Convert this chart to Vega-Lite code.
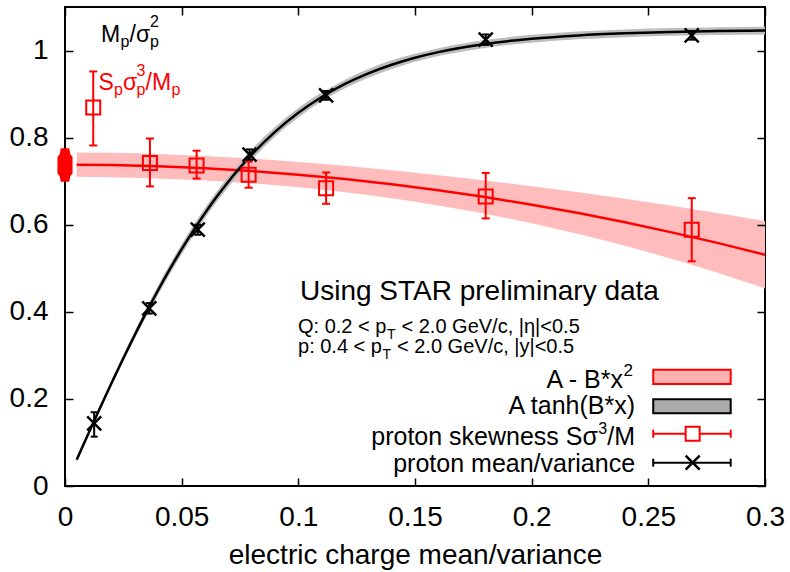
{
"$schema": "https://vega.github.io/schema/vega-lite/v6.json",
"width": 700, "height": 479,
"autosize": {"type": "none"},
"padding": {"left": 65, "top": 7, "right": 25, "bottom": 86},
"background": "white",
"config": {"font": "Liberation Sans", "view": {"stroke": "black", "strokeWidth": 2}, "axis": {"labelColor": "black", "titleColor": "black", "grid": false, "labelFont": "Liberation Sans", "titleFont": "Liberation Sans"}},
"resolve": {"axis": {"x": "independent", "y": "independent"}},
"datasets": {
"redfit": [
{"x":0.005,"y":0.7379,"lo":0.7099,"hi":0.7659},{"x":0.02,"y":0.7371,"lo":0.7091,"hi":0.7651},{"x":0.04,"y":0.7343,"lo":0.7063,"hi":0.7623},{"x":0.06,"y":0.7297,"lo":0.7016,"hi":0.7578},{"x":0.08,"y":0.7233,"lo":0.6948,"hi":0.7518},{"x":0.1,"y":0.715,"lo":0.6859,"hi":0.7441},{"x":0.12,"y":0.7049,"lo":0.6746,"hi":0.7352},{"x":0.14,"y":0.6929,"lo":0.6608,"hi":0.725},{"x":0.16,"y":0.6791,"lo":0.6444,"hi":0.7138},{"x":0.18,"y":0.6635,"lo":0.6253,"hi":0.7017},{"x":0.2,"y":0.646,"lo":0.6035,"hi":0.6885},{"x":0.22,"y":0.6267,"lo":0.5789,"hi":0.6745},{"x":0.24,"y":0.6055,"lo":0.5516,"hi":0.6594},{"x":0.26,"y":0.5825,"lo":0.5216,"hi":0.6434},{"x":0.28,"y":0.5577,"lo":0.489,"hi":0.6264},{"x":0.3,"y":0.531,"lo":0.4538,"hi":0.6083}],
"blackfit": [
{"x":0.005,"y":0.0602,"lo":0.0562,"hi":0.0642},{"x":0.01,"y":0.12,"lo":0.115,"hi":0.125},{"x":0.015,"y":0.179,"lo":0.173,"hi":0.185},{"x":0.02,"y":0.2369,"lo":0.2299,"hi":0.2439},{"x":0.025,"y":0.2933,"lo":0.2853,"hi":0.3013},{"x":0.03,"y":0.3479,"lo":0.3389,"hi":0.3569},{"x":0.035,"y":0.4004,"lo":0.3904,"hi":0.4104},{"x":0.04,"y":0.4507,"lo":0.4397,"hi":0.4617},{"x":0.045,"y":0.4986,"lo":0.4876,"hi":0.5096},{"x":0.05,"y":0.5439,"lo":0.5319,"hi":0.5559},{"x":0.055,"y":0.5866,"lo":0.5746,"hi":0.5986},{"x":0.06,"y":0.6267,"lo":0.6147,"hi":0.6387},{"x":0.065,"y":0.6641,"lo":0.6521,"hi":0.6761},{"x":0.07,"y":0.6988,"lo":0.6868,"hi":0.7108},{"x":0.075,"y":0.731,"lo":0.719,"hi":0.743},{"x":0.08,"y":0.7607,"lo":0.7487,"hi":0.7727},{"x":0.09,"y":0.8132,"lo":0.8022,"hi":0.8242},{"x":0.1,"y":0.857,"lo":0.846,"hi":0.868},{"x":0.11,"y":0.8934,"lo":0.8834,"hi":0.9034},{"x":0.12,"y":0.9232,"lo":0.9132,"hi":0.9332},{"x":0.13,"y":0.9476,"lo":0.9376,"hi":0.9576},{"x":0.14,"y":0.9675,"lo":0.9575,"hi":0.9775},{"x":0.15,"y":0.9835,"lo":0.9745,"hi":0.9925},{"x":0.16,"y":0.9964,"lo":0.9874,"hi":1.0054},{"x":0.18,"y":1.0151,"lo":1.0061,"hi":1.0241},{"x":0.2,"y":1.0271,"lo":1.0181,"hi":1.0361},{"x":0.22,"y":1.0348,"lo":1.0258,"hi":1.0438},{"x":0.24,"y":1.0396,"lo":1.0306,"hi":1.0486},{"x":0.26,"y":1.0427,"lo":1.0337,"hi":1.0517},{"x":0.28,"y":1.0447,"lo":1.0357,"hi":1.0537},{"x":0.3,"y":1.0459,"lo":1.0369,"hi":1.0549}],
"red": [
{"x":0.0121,"y":0.869,"lo":0.782,"hi":0.952},{"x":0.0364,"y":0.742,"lo":0.688,"hi":0.798},{"x":0.0564,"y":0.736,"lo":0.706,"hi":0.77},{"x":0.0787,"y":0.715,"lo":0.685,"hi":0.745},{"x":0.1119,"y":0.684,"lo":0.648,"hi":0.72},{"x":0.1803,"y":0.665,"lo":0.6145,"hi":0.719},{"x":0.2686,"y":0.5885,"lo":0.516,"hi":0.661}],
"black": [
{"x":0.0125,"y":0.144,"lo":0.1133,"hi":0.1694},{"x":0.0361,"y":0.408,"lo":0.396,"hi":0.42},{"x":0.0569,"y":0.5885,"lo":0.577,"hi":0.6},{"x":0.0791,"y":0.761,"lo":0.749,"hi":0.773},{"x":0.1119,"y":0.897,"lo":0.887,"hi":0.907},{"x":0.1803,"y":1.025,"lo":1.013,"hi":1.037},{"x":0.2686,"y":1.035,"lo":1.025,"hi":1.045}],
"redA": [{"x":0,"y":0.737}],
"legbox": [{"x1":0.2521,"x2":0.2853,"y1":0.2345,"y2":0.2667,"k":"pink"},{"x1":0.2521,"x2":0.2853,"y1":0.1671,"y2":0.1993,"k":"gray"}],
"legbar": [{"x1":0.2521,"x2":0.2853,"xm":0.269,"y":0.12,"k":"red"},{"x1":0.2521,"x2":0.2853,"xm":0.269,"y":0.0536,"k":"black"}],
"labels": [
{"t":"M","x":0.01543,"y":1.02,"g":"am"},{"t":"/σ","x":0.02764,"y":1.02,"g":"am"},
{"t":"p","x":0.02379,"y":1.0092,"g":"as"},{"t":"p","x":0.03643,"y":1.0092,"g":"as"},{"t":"2","x":0.03643,"y":1.0552,"g":"as"},
{"t":"S","x":0.01436,"y":0.9103,"g":"rm"},{"t":"σ","x":0.02486,"y":0.9103,"g":"rm"},{"t":"/M","x":0.0345,"y":0.9103,"g":"rm"},
{"t":"p","x":0.021,"y":0.8989,"g":"rs"},{"t":"p","x":0.03064,"y":0.8989,"g":"rs"},{"t":"3","x":0.03064,"y":0.9425,"g":"rs"},{"t":"p","x":0.04564,"y":0.8989,"g":"rs"},
{"t":"Using STAR preliminary data","x":0.1007,"y":0.4276,"g":"star"},
{"t":"Q: 0.2 < p","x":0.09986,"y":0.351,"g":"q"},{"t":"< 2.0 GeV/c, |η|<0.5","x":0.14421,"y":0.351,"g":"q"},
{"t":"p: 0.4 < p","x":0.09986,"y":0.3051,"g":"q"},{"t":"< 2.0 GeV/c, |y|<0.5","x":0.14229,"y":0.3051,"g":"q"},
{"t":"T","x":0.138,"y":0.3379,"g":"qs"},{"t":"T","x":0.13607,"y":0.292,"g":"qs"},
{"t":"A - B*x","x":0.2391,"y":0.2253,"g":"lr"},{"t":"A tanh(B*x)","x":0.2443,"y":0.1655,"g":"lr"},{"t":"/M","x":0.2443,"y":0.0943,"g":"lr"},{"t":"proton skewness Sσ","x":0.2284,"y":0.0943,"g":"lr"},{"t":"proton mean/variance","x":0.2443,"y":0.0315,"g":"lr"},
{"t":"2","x":0.2394,"y":0.2529,"g":"lsl"},{"t":"3","x":0.2323,"y":0.1195,"g":"lsr"}]
},
"layer": [
{"data":{"name":"redfit"},"mark":{"type":"area","color":"#ffbcbc","interpolate":"monotone"},
 "encoding":{"x":{"field":"x","type":"quantitative","scale":{"domain":[0,0.3],"nice":false},
   "axis":{"orient":"bottom","values":[0,0.05,0.1,0.15,0.2,0.25,0.3],"format":"~g","labelFontSize":28,"labelPadding":17,"labelFlush":false,"labelOverlap":false,"ticks":false,"domain":false,"title":"electric charge mean/variance","titleFontSize":28,"titleFontWeight":"normal","titleBaseline":"alphabetic","titleY":77}},
  "y":{"field":"lo","type":"quantitative","scale":{"domain":[0,1.1],"nice":false},
   "axis":{"orient":"left","values":[0,0.2,0.4,0.6,0.8,1],"format":"~g","labelFontSize":28,"labelPadding":17,"labelOverlap":false,"ticks":false,"domain":false,"title":null}},
  "y2":{"field":"hi"}}},
{"data":{"name":"blackfit"},"mark":{"type":"area","color":"#bdbdbd","interpolate":"monotone"},
 "encoding":{"x":{"field":"x","type":"quantitative","scale":{"domain":[0,0.3],"nice":false},
   "axis":{"orient":"bottom","offset":-8,"values":[0,0.05,0.1,0.15,0.2,0.25,0.3],"labels":false,"domain":false,"ticks":true,"tickSize":8,"tickWidth":1.5,"tickColor":"black","title":null,"zindex":1}},
  "y":{"field":"lo","type":"quantitative","scale":{"domain":[0,1.1],"nice":false},
   "axis":{"orient":"left","offset":-8,"values":[0,0.2,0.4,0.6,0.8,1],"labels":false,"domain":false,"ticks":true,"tickSize":8,"tickWidth":1.5,"tickColor":"black","title":null,"zindex":1}},
  "y2":{"field":"hi"}}},
{"data":{"name":"redfit"},"mark":{"type":"line","color":"#ff0000","strokeWidth":2.5,"interpolate":"monotone"},
 "encoding":{"x":{"field":"x","type":"quantitative","scale":{"domain":[0,0.3],"nice":false},
   "axis":{"orient":"top","offset":-8,"values":[0,0.05,0.1,0.15,0.2,0.25,0.3],"labels":false,"domain":false,"ticks":true,"tickSize":8,"tickWidth":1.5,"tickColor":"black","title":null,"zindex":1}},
  "y":{"field":"y","type":"quantitative","scale":{"domain":[0,1.1],"nice":false},
   "axis":{"orient":"right","offset":-8,"values":[0,0.2,0.4,0.6,0.8,1],"labels":false,"domain":false,"ticks":true,"tickSize":8,"tickWidth":1.5,"tickColor":"black","title":null,"zindex":1}}}},
{"data":{"name":"blackfit"},"mark":{"type":"line","color":"black","strokeWidth":2.5,"interpolate":"monotone"},
 "encoding":{"x":{"field":"x","type":"quantitative","scale":{"domain":[0,0.3],"nice":false},"axis":null},
  "y":{"field":"y","type":"quantitative","scale":{"domain":[0,1.1],"nice":false},"axis":null}}},
{"data":{"name":"redA"},"mark":{"type":"point","shape":"M -0.25 -1 L 0.25 -1 L 0.32 -0.65 L 0.45 -0.5 L 0.45 0.5 L 0.32 0.65 L 0.25 1 L -0.25 1 L -0.32 0.65 L -0.45 0.5 L -0.45 -0.5 L -0.32 -0.65 Z","size":1122,"filled":true,"fill":"#ff0000","strokeWidth":0,"opacity":1},
 "encoding":{"x":{"field":"x","type":"quantitative","scale":{"domain":[0,0.3],"nice":false},"axis":null},
  "y":{"field":"y","type":"quantitative","scale":{"domain":[0,1.1],"nice":false},"axis":null}}},
{"data":{"name":"red"},"mark":{"type":"rule","color":"#ff0000","strokeWidth":2},
 "encoding":{"x":{"field":"x","type":"quantitative","scale":{"domain":[0,0.3],"nice":false},"axis":null},
  "y":{"field":"lo","type":"quantitative","scale":{"domain":[0,1.1],"nice":false},"axis":null},"y2":{"field":"hi"}}},
{"data":{"name":"red"},"mark":{"type":"point","shape":"M -1 0 L 1 0","size":64,"filled":false,"stroke":"#ff0000","strokeWidth":2,"opacity":1},
 "encoding":{"x":{"field":"x","type":"quantitative","scale":{"domain":[0,0.3],"nice":false},"axis":null},
  "y":{"field":"lo","type":"quantitative","scale":{"domain":[0,1.1],"nice":false},"axis":null}}},
{"data":{"name":"red"},"mark":{"type":"point","shape":"M -1 0 L 1 0","size":64,"filled":false,"stroke":"#ff0000","strokeWidth":2,"opacity":1},
 "encoding":{"x":{"field":"x","type":"quantitative","scale":{"domain":[0,0.3],"nice":false},"axis":null},
  "y":{"field":"hi","type":"quantitative","scale":{"domain":[0,1.1],"nice":false},"axis":null}}},
{"data":{"name":"black"},"mark":{"type":"rule","color":"black","strokeWidth":2},
 "encoding":{"x":{"field":"x","type":"quantitative","scale":{"domain":[0,0.3],"nice":false},"axis":null},
  "y":{"field":"lo","type":"quantitative","scale":{"domain":[0,1.1],"nice":false},"axis":null},"y2":{"field":"hi"}}},
{"data":{"name":"black"},"mark":{"type":"point","shape":"M -1 0 L 1 0","size":49,"filled":false,"stroke":"black","strokeWidth":2,"opacity":1},
 "encoding":{"x":{"field":"x","type":"quantitative","scale":{"domain":[0,0.3],"nice":false},"axis":null},
  "y":{"field":"lo","type":"quantitative","scale":{"domain":[0,1.1],"nice":false},"axis":null}}},
{"data":{"name":"black"},"mark":{"type":"point","shape":"M -1 0 L 1 0","size":49,"filled":false,"stroke":"black","strokeWidth":2,"opacity":1},
 "encoding":{"x":{"field":"x","type":"quantitative","scale":{"domain":[0,0.3],"nice":false},"axis":null},
  "y":{"field":"hi","type":"quantitative","scale":{"domain":[0,1.1],"nice":false},"axis":null}}},
{"data":{"name":"red"},"mark":{"type":"point","shape":"square","size":196,"filled":false,"stroke":"#ff0000","strokeWidth":2,"opacity":1},
 "encoding":{"x":{"field":"x","type":"quantitative","scale":{"domain":[0,0.3],"nice":false},"axis":null},
  "y":{"field":"y","type":"quantitative","scale":{"domain":[0,1.1],"nice":false},"axis":null}}},
{"data":{"name":"black"},"mark":{"type":"point","shape":"M -1 -1 L 1 1 M -1 1 L 1 -1","size":196,"filled":false,"stroke":"black","strokeWidth":2.5,"opacity":1},
 "encoding":{"x":{"field":"x","type":"quantitative","scale":{"domain":[0,0.3],"nice":false},"axis":null},
  "y":{"field":"y","type":"quantitative","scale":{"domain":[0,1.1],"nice":false},"axis":null}}},
{"data":{"name":"legbox"},"transform":[{"filter":"datum.k == 'pink'"}],"mark":{"type":"rect","fill":"#ffb0b0","stroke":"#ff0000","strokeWidth":2},
 "encoding":{"x":{"field":"x1","type":"quantitative","scale":{"domain":[0,0.3],"nice":false},"axis":null},"x2":{"field":"x2"},
  "y":{"field":"y1","type":"quantitative","scale":{"domain":[0,1.1],"nice":false},"axis":null},"y2":{"field":"y2"}}},
{"data":{"name":"legbox"},"transform":[{"filter":"datum.k == 'gray'"}],"mark":{"type":"rect","fill":"#aaaaaa","stroke":"black","strokeWidth":2},
 "encoding":{"x":{"field":"x1","type":"quantitative","scale":{"domain":[0,0.3],"nice":false},"axis":null},"x2":{"field":"x2"},
  "y":{"field":"y1","type":"quantitative","scale":{"domain":[0,1.1],"nice":false},"axis":null},"y2":{"field":"y2"}}},
{"data":{"name":"legbar"},"transform":[{"filter":"datum.k == 'red'"}],"mark":{"type":"rule","color":"#ff0000","strokeWidth":2},
 "encoding":{"x":{"field":"x1","type":"quantitative","scale":{"domain":[0,0.3],"nice":false},"axis":null},"x2":{"field":"x2"},
  "y":{"field":"y","type":"quantitative","scale":{"domain":[0,1.1],"nice":false},"axis":null}}},
{"data":{"name":"legbar"},"transform":[{"filter":"datum.k == 'black'"}],"mark":{"type":"rule","color":"black","strokeWidth":2},
 "encoding":{"x":{"field":"x1","type":"quantitative","scale":{"domain":[0,0.3],"nice":false},"axis":null},"x2":{"field":"x2"},
  "y":{"field":"y","type":"quantitative","scale":{"domain":[0,1.1],"nice":false},"axis":null}}},
{"data":{"name":"legbar"},"transform":[{"filter":"datum.k == 'red'"}],"mark":{"type":"point","shape":"M 0 -1 L 0 1","size":64,"filled":false,"stroke":"#ff0000","strokeWidth":2,"opacity":1},
 "encoding":{"x":{"field":"x1","type":"quantitative","scale":{"domain":[0,0.3],"nice":false},"axis":null},
  "y":{"field":"y","type":"quantitative","scale":{"domain":[0,1.1],"nice":false},"axis":null}}},
{"data":{"name":"legbar"},"transform":[{"filter":"datum.k == 'red'"}],"mark":{"type":"point","shape":"M 0 -1 L 0 1","size":64,"filled":false,"stroke":"#ff0000","strokeWidth":2,"opacity":1},
 "encoding":{"x":{"field":"x2","type":"quantitative","scale":{"domain":[0,0.3],"nice":false},"axis":null},
  "y":{"field":"y","type":"quantitative","scale":{"domain":[0,1.1],"nice":false},"axis":null}}},
{"data":{"name":"legbar"},"transform":[{"filter":"datum.k == 'black'"}],"mark":{"type":"point","shape":"M 0 -1 L 0 1","size":64,"filled":false,"stroke":"black","strokeWidth":2,"opacity":1},
 "encoding":{"x":{"field":"x1","type":"quantitative","scale":{"domain":[0,0.3],"nice":false},"axis":null},
  "y":{"field":"y","type":"quantitative","scale":{"domain":[0,1.1],"nice":false},"axis":null}}},
{"data":{"name":"legbar"},"transform":[{"filter":"datum.k == 'black'"}],"mark":{"type":"point","shape":"M 0 -1 L 0 1","size":64,"filled":false,"stroke":"black","strokeWidth":2,"opacity":1},
 "encoding":{"x":{"field":"x2","type":"quantitative","scale":{"domain":[0,0.3],"nice":false},"axis":null},
  "y":{"field":"y","type":"quantitative","scale":{"domain":[0,1.1],"nice":false},"axis":null}}},
{"data":{"name":"legbar"},"transform":[{"filter":"datum.k == 'red'"}],"mark":{"type":"point","shape":"square","size":196,"filled":true,"fill":"white","stroke":"#ff0000","strokeWidth":2,"opacity":1},
 "encoding":{"x":{"field":"xm","type":"quantitative","scale":{"domain":[0,0.3],"nice":false},"axis":null},
  "y":{"field":"y","type":"quantitative","scale":{"domain":[0,1.1],"nice":false},"axis":null}}},
{"data":{"name":"legbar"},"transform":[{"filter":"datum.k == 'black'"}],"mark":{"type":"point","shape":"M -1 -1 L 1 1 M -1 1 L 1 -1","size":196,"filled":false,"stroke":"black","strokeWidth":2.5,"opacity":1},
 "encoding":{"x":{"field":"xm","type":"quantitative","scale":{"domain":[0,0.3],"nice":false},"axis":null},
  "y":{"field":"y","type":"quantitative","scale":{"domain":[0,1.1],"nice":false},"axis":null}}},
{"data":{"name":"labels"},"transform":[{"filter":"datum.g == 'am'"}],"mark":{"type":"text","align":"left","baseline":"alphabetic","fontSize":23,"color":"black"},
 "encoding":{"x":{"field":"x","type":"quantitative","scale":{"domain":[0,0.3],"nice":false},"axis":null},
  "y":{"field":"y","type":"quantitative","scale":{"domain":[0,1.1],"nice":false},"axis":null},"text":{"field":"t"}}},
{"data":{"name":"labels"},"transform":[{"filter":"datum.g == 'as'"}],"mark":{"type":"text","align":"left","baseline":"alphabetic","fontSize":16,"color":"black"},
 "encoding":{"x":{"field":"x","type":"quantitative","scale":{"domain":[0,0.3],"nice":false},"axis":null},
  "y":{"field":"y","type":"quantitative","scale":{"domain":[0,1.1],"nice":false},"axis":null},"text":{"field":"t"}}},
{"data":{"name":"labels"},"transform":[{"filter":"datum.g == 'rm'"}],"mark":{"type":"text","align":"left","baseline":"alphabetic","fontSize":23,"color":"#ff0000"},
 "encoding":{"x":{"field":"x","type":"quantitative","scale":{"domain":[0,0.3],"nice":false},"axis":null},
  "y":{"field":"y","type":"quantitative","scale":{"domain":[0,1.1],"nice":false},"axis":null},"text":{"field":"t"}}},
{"data":{"name":"labels"},"transform":[{"filter":"datum.g == 'rs'"}],"mark":{"type":"text","align":"left","baseline":"alphabetic","fontSize":16,"color":"#ff0000"},
 "encoding":{"x":{"field":"x","type":"quantitative","scale":{"domain":[0,0.3],"nice":false},"axis":null},
  "y":{"field":"y","type":"quantitative","scale":{"domain":[0,1.1],"nice":false},"axis":null},"text":{"field":"t"}}},
{"data":{"name":"labels"},"transform":[{"filter":"datum.g == 'star'"}],"mark":{"type":"text","align":"left","baseline":"alphabetic","fontSize":28,"color":"black"},
 "encoding":{"x":{"field":"x","type":"quantitative","scale":{"domain":[0,0.3],"nice":false},"axis":null},
  "y":{"field":"y","type":"quantitative","scale":{"domain":[0,1.1],"nice":false},"axis":null},"text":{"field":"t"}}},
{"data":{"name":"labels"},"transform":[{"filter":"datum.g == 'q'"}],"mark":{"type":"text","align":"left","baseline":"alphabetic","fontSize":20,"color":"black"},
 "encoding":{"x":{"field":"x","type":"quantitative","scale":{"domain":[0,0.3],"nice":false},"axis":null},
  "y":{"field":"y","type":"quantitative","scale":{"domain":[0,1.1],"nice":false},"axis":null},"text":{"field":"t"}}},
{"data":{"name":"labels"},"transform":[{"filter":"datum.g == 'qs'"}],"mark":{"type":"text","align":"left","baseline":"alphabetic","fontSize":14,"color":"black"},
 "encoding":{"x":{"field":"x","type":"quantitative","scale":{"domain":[0,0.3],"nice":false},"axis":null},
  "y":{"field":"y","type":"quantitative","scale":{"domain":[0,1.1],"nice":false},"axis":null},"text":{"field":"t"}}},
{"data":{"name":"labels"},"transform":[{"filter":"datum.g == 'lr'"}],"mark":{"type":"text","align":"right","baseline":"alphabetic","fontSize":25,"color":"black"},
 "encoding":{"x":{"field":"x","type":"quantitative","scale":{"domain":[0,0.3],"nice":false},"axis":null},
  "y":{"field":"y","type":"quantitative","scale":{"domain":[0,1.1],"nice":false},"axis":null},"text":{"field":"t"}}},
{"data":{"name":"labels"},"transform":[{"filter":"datum.g == 'lsl'"}],"mark":{"type":"text","align":"left","baseline":"alphabetic","fontSize":17,"color":"black"},
 "encoding":{"x":{"field":"x","type":"quantitative","scale":{"domain":[0,0.3],"nice":false},"axis":null},
  "y":{"field":"y","type":"quantitative","scale":{"domain":[0,1.1],"nice":false},"axis":null},"text":{"field":"t"}}},
{"data":{"name":"labels"},"transform":[{"filter":"datum.g == 'lsr'"}],"mark":{"type":"text","align":"right","baseline":"alphabetic","fontSize":16,"color":"black"},
 "encoding":{"x":{"field":"x","type":"quantitative","scale":{"domain":[0,0.3],"nice":false},"axis":null},
  "y":{"field":"y","type":"quantitative","scale":{"domain":[0,1.1],"nice":false},"axis":null},"text":{"field":"t"}}}
]
}
